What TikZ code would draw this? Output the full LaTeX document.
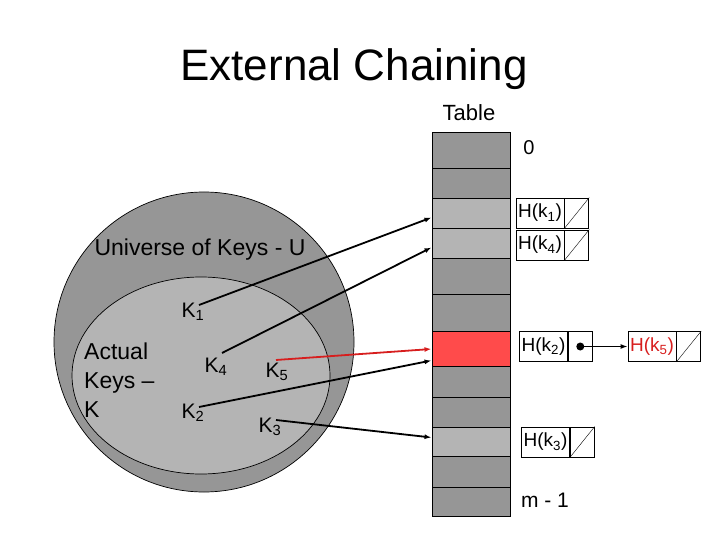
\documentclass[tikz,border=0pt]{standalone}
\usepackage{fontspec}
\setmainfont{Liberation Sans}
\usepackage{tikz}
\usetikzlibrary{arrows.meta}
\definecolor{outergray}{RGB}{150,150,150}
\definecolor{innergray}{RGB}{180,180,180}
\definecolor{slotred}{RGB}{255,75,75}
\definecolor{linkred}{RGB}{215,30,30}

\begin{document}
\begin{tikzpicture}[x=1pt,y=-1pt,>={Latex[length=7pt,width=5pt]},
        slot/.style={draw,line width=1pt,minimum width=78pt,inner sep=0pt},
        keylabel/.style={inner sep=0pt,anchor=base west,font=\fontsize{21}{25}\selectfont},
        cellbox/.style={draw,line width=0.8pt,minimum width=48pt,minimum height=30pt,inner sep=0pt,font=\fontsize{19}{22}\selectfont},
        nilbox/.style={draw,line width=0.8pt,minimum width=24pt,minimum height=30pt,inner sep=0pt,anchor=west},
        link/.style={->,line width=1.8pt}]
        \useasboundingbox (0,0) rectangle (720,540);
        % title
        \node[anchor=base,font=\fontsize{44}{50}\selectfont] (title) at (354,81) {External Chaining};
        % universe U and actual keys K
        \draw[fill=outergray,line width=0.7pt] (204,342) circle (150);
        \draw[fill=innergray,line width=0.7pt] (201,375.5) ellipse [x radius=129,y radius=98.5];
        \node[anchor=base,font=\fontsize{23}{27}\selectfont] (universe) at (200,255) {Universe of Keys - U};
        \node[anchor=west,align=left,inner sep=0pt,font=\fontsize{23}{29}\selectfont] (actual) at (84,380) {Actual\\Keys –\\K};
        \node[keylabel] (k1) at (181.5,317) {K\textsubscript{1}};
        \node[keylabel] (k4) at (204.5,372) {K\textsubscript{4}};
        \node[keylabel] (k5) at (265.5,377) {K\textsubscript{5}};
        \node[keylabel] (k2) at (181.5,418) {K\textsubscript{2}};
        \node[keylabel] (k3) at (258.5,432) {K\textsubscript{3}};
        % table slots
        \foreach \i/\ya/\yb/\col in {0/132/168/outergray,1/168/198/outergray,2/198/228/innergray,3/228/258/innergray,
                4/258/294/outergray,5/294/331/outergray,6/331/366/slotred,7/366/397/outergray,
                8/397/427/outergray,9/427/456/innergray,10/456/487/outergray,11/487/516/outergray}
            \node[slot,fill=\col,minimum height={(\yb-\ya)*1pt},anchor=north] (row\i) at (471,\ya) {};
        \node[anchor=base,font=\fontsize{22}{26}\selectfont] (tablelabel) at (469,121) {Table};
        \node[anchor=base,font=\fontsize{20}{24}\selectfont] (first) at (529,155) {0};
        \node[anchor=base,font=\fontsize{21}{25}\selectfont] (last) at (545,507) {m - 1};
        % hash links
        \draw[link] ([shift={(17.5,-12)}]k1.base west) -- ([yshift=-4pt]row2.west);
        \draw[link] ([shift={(17.5,-19)}]k4.base west) -- ([yshift=-4pt]row3.west);
        \draw[link,linkred] ([shift={(10.5,-17)}]k5.base west) -- (row6.west);
        \draw[link] ([shift={(17.5,-11)}]k2.base west) -- ([yshift=-11.5pt]row6.west);
        \draw[link] ([shift={(17.5,-12)}]k3.base west) -- ([yshift=4.5pt]row9.west);
        % chains
        \node[cellbox] (h1) at (540,213) {H(k\textsubscript{1})};
        \node[nilbox] (n1) at (h1.east) {};
        \draw (n1.south west) -- (n1.north east);
        \node[cellbox] (h4) at (540,245) {H(k\textsubscript{4})};
        \node[nilbox] (n4) at (h4.east) {};
        \draw (n4.south west) -- (n4.north east);
        \node[cellbox] (h2) at (543.5,346.5) {H(k\textsubscript{2})};
        \node[nilbox] (p2) at (h2.east) {};
        \node[cellbox,text=linkred] (h5) at (652,346.5) {H(k\textsubscript{5})};
        \node[nilbox] (n5) at (h5.east) {};
        \draw (n5.south west) -- (n5.north east);
        \fill (p2.center) circle (4);
        \draw[->,line width=1.5pt] (p2.center) -- (h5.west);
        \node[cellbox] (h3) at (545.5,442) {H(k\textsubscript{3})};
        \node[nilbox] (n3) at (h3.east) {};
        \draw (n3.south west) -- (n3.north east);
\end{tikzpicture}
\end{document}
